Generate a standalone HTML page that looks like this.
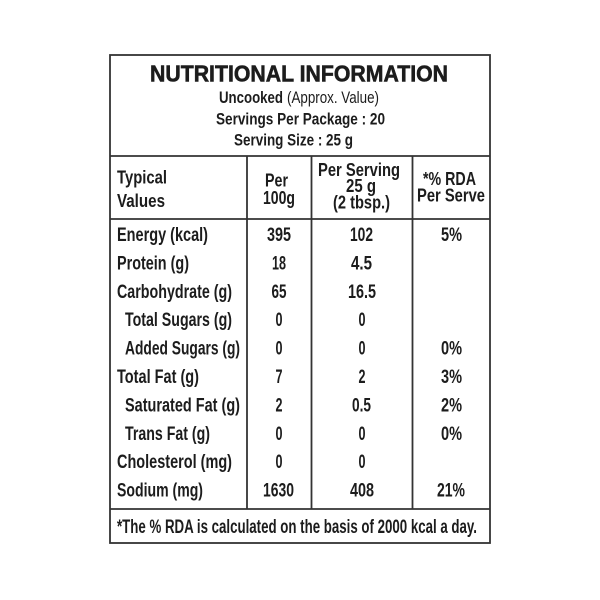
<!DOCTYPE html>
<html><head><meta charset="utf-8"><style>
html,body{margin:0;padding:0;background:#fff;}
svg{display:block;}
text{font-family:"Liberation Sans",sans-serif;fill:#1c1c1c;font-weight:bold;}
.r{font-weight:normal;}
</style></head><body>
<svg width="600" height="600" viewBox="0 0 600 600" xmlns="http://www.w3.org/2000/svg">
<rect x="0" y="0" width="600" height="600" fill="#fff"/>
<g stroke="#333" stroke-width="1.8" fill="none">
<rect x="110" y="55" width="380" height="488"/>
<line x1="110" y1="156" x2="490" y2="156"/>
<line x1="110" y1="219" x2="490" y2="219"/>
<line x1="110" y1="509" x2="490" y2="509"/>
<line x1="247" y1="156" x2="247" y2="509"/>
<line x1="311.5" y1="156" x2="311.5" y2="509"/>
<line x1="412.5" y1="156" x2="412.5" y2="509"/>
</g>
<!-- title -->
<text x="150" y="81.5" font-size="23.5" stroke="#1c1c1c" stroke-width="0.6" textLength="298" lengthAdjust="spacingAndGlyphs">NUTRITIONAL INFORMATION</text>
<text x="219" y="103" font-size="16.5" textLength="64" lengthAdjust="spacingAndGlyphs">Uncooked</text>
<text class="r" x="287" y="103" font-size="16.5" textLength="92" lengthAdjust="spacingAndGlyphs">(Approx. Value)</text>
<text x="216" y="124.5" font-size="16.5" textLength="169" lengthAdjust="spacingAndGlyphs">Servings Per Package : 20</text>
<text x="234" y="145.5" font-size="16.5" textLength="119" lengthAdjust="spacingAndGlyphs">Serving Size : 25 g</text>
<!-- header -->
<g font-size="18.5">
<text x="117" y="183.5" textLength="50" lengthAdjust="spacingAndGlyphs">Typical</text>
<text x="117" y="207" textLength="48" lengthAdjust="spacingAndGlyphs">Values</text>
<text x="265" y="186.5" textLength="23" lengthAdjust="spacingAndGlyphs">Per</text>
<text x="263" y="204" textLength="32" lengthAdjust="spacingAndGlyphs">100g</text>
<text x="318" y="176" textLength="82" lengthAdjust="spacingAndGlyphs">Per Serving</text>
<text x="346" y="192" textLength="30" lengthAdjust="spacingAndGlyphs">25 g</text>
<text x="333" y="208.5" textLength="57" lengthAdjust="spacingAndGlyphs">(2 tbsp.)</text>
<text x="423" y="185" textLength="53" lengthAdjust="spacingAndGlyphs">*% RDA</text>
<text x="417" y="201.5" textLength="68" lengthAdjust="spacingAndGlyphs">Per Serve</text>
</g>
<!-- labels -->
<g font-size="19.5">
<text x="117" y="241" textLength="91" lengthAdjust="spacingAndGlyphs">Energy (kcal)</text>
<text x="117" y="269.5" textLength="72" lengthAdjust="spacingAndGlyphs">Protein (g)</text>
<text x="117" y="298" textLength="115" lengthAdjust="spacingAndGlyphs">Carbohydrate (g)</text>
<text x="125" y="326" textLength="107" lengthAdjust="spacingAndGlyphs">Total Sugars (g)</text>
<text x="125" y="354.5" textLength="115" lengthAdjust="spacingAndGlyphs">Added Sugars (g)</text>
<text x="117" y="383" textLength="82" lengthAdjust="spacingAndGlyphs">Total Fat (g)</text>
<text x="125" y="411.5" textLength="115" lengthAdjust="spacingAndGlyphs">Saturated Fat (g)</text>
<text x="125" y="440" textLength="85" lengthAdjust="spacingAndGlyphs">Trans Fat (g)</text>
<text x="117" y="468" textLength="115" lengthAdjust="spacingAndGlyphs">Cholesterol (mg)</text>
<text x="117" y="496.5" textLength="86" lengthAdjust="spacingAndGlyphs">Sodium (mg)</text>
</g>
<!-- col 2 -->
<g font-size="19.5" text-anchor="middle">
<text x="279" y="241" textLength="24" lengthAdjust="spacingAndGlyphs">395</text>
<text x="279" y="269.5" textLength="14" lengthAdjust="spacingAndGlyphs">18</text>
<text x="279" y="298" textLength="15" lengthAdjust="spacingAndGlyphs">65</text>
<text x="279" y="326" textLength="7" lengthAdjust="spacingAndGlyphs">0</text>
<text x="279" y="354.5" textLength="7" lengthAdjust="spacingAndGlyphs">0</text>
<text x="279" y="383" textLength="7" lengthAdjust="spacingAndGlyphs">7</text>
<text x="279" y="411.5" textLength="7" lengthAdjust="spacingAndGlyphs">2</text>
<text x="279" y="440" textLength="7" lengthAdjust="spacingAndGlyphs">0</text>
<text x="279" y="468" textLength="7" lengthAdjust="spacingAndGlyphs">0</text>
<text x="278.5" y="496.5" textLength="31" lengthAdjust="spacingAndGlyphs">1630</text>
</g>
<!-- col 3 -->
<g font-size="19.5" text-anchor="middle">
<text x="361.5" y="241" textLength="23" lengthAdjust="spacingAndGlyphs">102</text>
<text x="361.5" y="269.5" textLength="21" lengthAdjust="spacingAndGlyphs">4.5</text>
<text x="362" y="298" textLength="28" lengthAdjust="spacingAndGlyphs">16.5</text>
<text x="362" y="326" textLength="7" lengthAdjust="spacingAndGlyphs">0</text>
<text x="362" y="354.5" textLength="7" lengthAdjust="spacingAndGlyphs">0</text>
<text x="362" y="383" textLength="7" lengthAdjust="spacingAndGlyphs">2</text>
<text x="361.5" y="411.5" textLength="19" lengthAdjust="spacingAndGlyphs">0.5</text>
<text x="362" y="440" textLength="7" lengthAdjust="spacingAndGlyphs">0</text>
<text x="362" y="468" textLength="7" lengthAdjust="spacingAndGlyphs">0</text>
<text x="362" y="496.5" textLength="24" lengthAdjust="spacingAndGlyphs">408</text>
</g>
<!-- col 4 -->
<g font-size="19.5" text-anchor="middle">
<text x="451.5" y="241" textLength="21" lengthAdjust="spacingAndGlyphs">5%</text>
<text x="451.5" y="354.5" textLength="21" lengthAdjust="spacingAndGlyphs">0%</text>
<text x="451.5" y="383" textLength="21" lengthAdjust="spacingAndGlyphs">3%</text>
<text x="451.5" y="411.5" textLength="21" lengthAdjust="spacingAndGlyphs">2%</text>
<text x="451.5" y="440" textLength="21" lengthAdjust="spacingAndGlyphs">0%</text>
<text x="451" y="496.5" textLength="28" lengthAdjust="spacingAndGlyphs">21%</text>
</g>
<!-- footer -->
<text x="117" y="533" font-size="19" textLength="360" lengthAdjust="spacingAndGlyphs">*The % RDA is calculated on the basis of 2000 kcal a day.</text>
</svg>
</body></html>
